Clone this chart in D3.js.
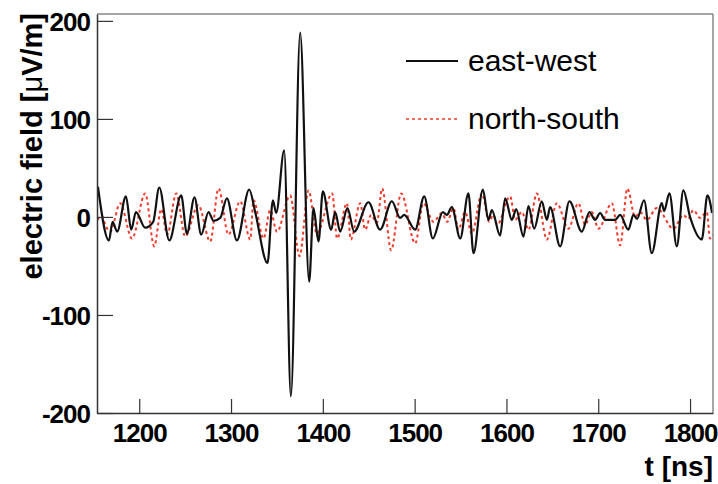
<!DOCTYPE html>
<html>
<head>
<meta charset="utf-8">
<script src="https://cdn.jsdelivr.net/npm/d3@7"></script>
<style>
  body { margin: 0; background: #fff; }
  svg { display: block; font-family: "Liberation Sans", Arial, sans-serif; }
</style>
</head>
<body>
<svg width="718" height="484"></svg>
<script>
  // east-west trace: [t in ns, field in uV/m] (extrema)
  const eastWest = [
    [1155,31],[1167,-24],[1171,-5],[1176,-15],[1185.5,21],[1191.3,-13],[1196.4,5],[1206.5,-11],
    [1215.2,-5],[1221.8,30],[1232.7,-24],[1245.7,22],[1251.9,-17],[1260.2,20],[1267.5,-18],
    [1275.5,5],[1280.9,-4],[1288.2,-1],[1295.5,19],[1306.4,-24],[1319.8,28],[1326.3,5],
    [1339.7,-47],[1345.6,17],[1349.2,4],[1357.9,68],[1365.2,-183],[1375.3,188],[1385.1,-66],
    [1389.8,9],[1395.3,-25],[1400,26],[1409.1,-13],[1413.4,5],[1418.9,-15],[1426.8,9],
    [1434.1,-15],[1449.7,15],[1462.4,-13],[1475.2,16],[1484.2,-1],[1488.6,2],[1500.6,-13],
    [1510.4,21],[1519.8,-22],[1530.7,5],[1535.1,2],[1540.5,10],[1549.6,-22],[1558.6,24],
    [1564.1,-37],[1574.3,28],[1580.4,-3],[1584.1,7],[1593.1,-19],[1598.6,19],[1605.9,-3],
    [1610.6,8],[1618.5,-20],[1624,11],[1630.2,-12],[1638.5,16],[1644,-3],[1647.6,10],
    [1658.5,-30],[1668.6,16],[1682.1,-15],[1690.4,5],[1696.6,-3],[1702,4],[1707.5,-3],
    [1718.4,-3],[1723.8,2],[1732.8,-13],[1738.3,2],[1742.3,-2],[1749.9,17],[1758.3,-37],
    [1769.2,14],[1771.7,6],[1777.5,24],[1785.6,-30],[1792.7,27],[1800,0],[1812.8,-23],
    [1818.9,22],[1824,4]
  ];

  // north-south trace
  const northSouth = [
    [1154.3,-3],[1159.4,1],[1163,-8],[1168.4,-15],[1179.3,14],[1192.1,-22],[1206.5,24],
    [1216.3,-30],[1224,8],[1230.5,-18],[1240.3,24],[1250.1,-20],[1264.3,12],[1277.3,-25],
    [1286.4,29],[1297.2,-18],[1310,16],[1320.9,-23],[1324.5,17],[1335.4,-22],[1342.7,7],
    [1350,-15],[1364.4,22],[1374.6,-40],[1384.4,27],[1393.5,-17],[1410.2,24],[1415.6,-22],
    [1426.2,14],[1430.5,-23],[1440.7,14],[1446.1,-13],[1452.6,2],[1458.9,-6],[1464.6,29],
    [1474.4,-34],[1485.3,24],[1500.6,-27],[1509.6,14],[1520.5,-5],[1529.6,4],[1535.4,-5],
    [1542.3,9],[1547.7,-13],[1555,5],[1562.3,-17],[1573.2,24],[1581.2,-5],[1585.5,2],
    [1589.9,-8],[1604,21],[1609.5,-3],[1616.8,5],[1624,-13],[1633.1,24],[1644,-23],
    [1654.9,14],[1667.5,-12],[1678.4,14],[1685.7,-8],[1693,5],[1700.2,-12],[1714.8,14],
    [1723.8,-29],[1731.8,29],[1740.1,0],[1745.6,5],[1752.9,-3],[1763.8,9],[1781.9,-12],
    [1792.7,2],[1797.9,-2],[1803.6,7],[1810.9,-1],[1818.2,5],[1821.8,-22],[1825,-18]
  ];

  const xTicks = [1200, 1300, 1400, 1500, 1600, 1700, 1800];
  const yTicks = [-200, -100, 0, 100, 200];
  const seriesNames = ["east-west", "north-south"];

  const svg = d3.select("svg");
  const plotLeft = 97, plotRight = 713, plotTop = 14, plotBottom = 413;

  const x = d3.scaleLinear().domain([1154, 1825]).range([plotLeft, plotRight]);
  const y = d3.scaleLinear().domain([-200, 207]).range([plotBottom, plotTop]);

  svg.append("defs").append("clipPath").attr("id", "plot")
    .append("rect")
      .attr("x", plotLeft).attr("y", plotTop)
      .attr("width", plotRight - plotLeft).attr("height", plotBottom - plotTop);

  const line = d3.line()
    .x(d => x(d[0]))
    .y(d => y(d[1]))
    .curve(d3.curveMonotoneX);

  const traces = svg.append("g").attr("clip-path", "url(#plot)");
  traces.append("path")
    .datum(northSouth)
    .attr("fill", "none")
    .attr("stroke", "#f03a2a")
    .attr("stroke-width", 2)
    .attr("stroke-dasharray", "3,3")
    .attr("d", line);
  traces.append("path")
    .datum(eastWest)
    .attr("fill", "none")
    .attr("stroke", "#111")
    .attr("stroke-width", 2.2)
    .attr("d", line);

  // frame: top and right in grey
  svg.append("line")
    .attr("x1", plotLeft).attr("x2", plotRight).attr("y1", plotTop).attr("y2", plotTop)
    .attr("stroke", "#888").attr("stroke-width", 1.5);
  svg.append("line")
    .attr("x1", plotRight).attr("x2", plotRight).attr("y1", plotTop).attr("y2", plotBottom)
    .attr("stroke", "#888").attr("stroke-width", 1.5);

  // axes with inward ticks, plain hyphen minus like the original
  const plain = d => String(d);

  const xAxis = svg.append("g")
    .attr("transform", `translate(0,${plotBottom})`)
    .call(d3.axisBottom(x).tickValues(xTicks).tickFormat(plain)
      .tickSize(-14).tickPadding(0).tickSizeOuter(0));
  xAxis.selectAll("text")
    .attr("y", 29)
    .attr("dy", 0);

  const yAxis = svg.append("g")
    .attr("transform", `translate(${plotLeft},0)`)
    .call(d3.axisLeft(y).tickValues(yTicks).tickFormat(plain)
      .tickSize(-16).tickPadding(0).tickSizeOuter(0));
  yAxis.selectAll("text")
    .attr("x", -7)
    .attr("dy", "0.36em");

  [xAxis, yAxis].forEach(g => {
    g.select(".domain").attr("stroke", "#333").attr("stroke-width", 1.5);
    g.selectAll(".tick line").attr("stroke", "#333").attr("stroke-width", 1.2);
    g.selectAll("text")
      .attr("fill", "#000")
      .style("font-family", "'Liberation Sans', Arial, sans-serif")
      .style("font-size", "26px")
      .style("font-weight", "bold")
      .style("letter-spacing", "-1px");
  });

  // axis titles
  const yTitle = svg.append("text")
    .attr("transform", "translate(42,13) rotate(-90)")
    .attr("text-anchor", "end")
    .style("font-size", "29px")
    .style("font-weight", "bold");
  yTitle.append("tspan").text("electric field [");
  yTitle.append("tspan").style("font-weight", "normal").text("μ");
  yTitle.append("tspan").text("V/m]");

  svg.append("text")
    .attr("x", plotRight)
    .attr("y", 476)
    .attr("text-anchor", "end")
    .style("font-size", "28px")
    .style("font-weight", "bold")
    .text("t [ns]");

  // legend
  const legend = svg.append("g");
  const legendStyles = [
    { stroke: "#111", dash: null, y: 61 },
    { stroke: "#f03a2a", dash: "3,3", y: 119 }
  ];
  seriesNames.forEach((name, i) => {
    const s = legendStyles[i];
    legend.append("line")
      .attr("x1", 406).attr("x2", 458)
      .attr("y1", s.y).attr("y2", s.y)
      .attr("stroke", s.stroke)
      .attr("stroke-width", i === 0 ? 2 : 1.5)
      .attr("stroke-dasharray", s.dash);
    legend.append("text")
      .attr("x", 468)
      .attr("y", s.y + 10)
      .style("font-size", "30px")
      .text(name);
  });
</script>
</body>
</html>
